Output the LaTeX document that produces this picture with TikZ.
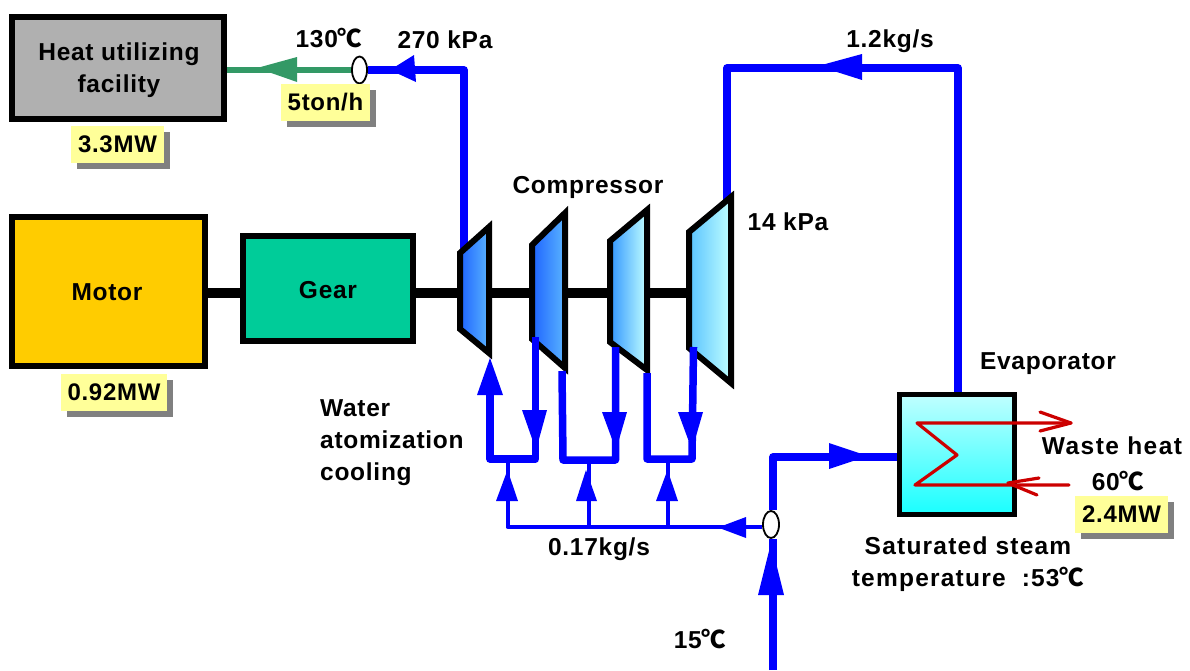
\documentclass[tikz,border=0pt]{standalone}
\usepackage{fontspec}
\usetikzlibrary{shapes.geometric}
\setmainfont[LetterSpace=3]{Liberation Sans}
\newfontfamily\cf{Noto Sans CJK JP}
\newcommand{\degC}{{\cf\bfseries ℃}}
\definecolor{pipeblue}{HTML}{0000FF}
\definecolor{hotred}{HTML}{CC0000}
\definecolor{steamgreen}{HTML}{339966}
\definecolor{noteyellow}{HTML}{FFFF99}
\tikzset{
 lbl/.style={inner sep=0pt,font=\fontsize{24.5}{32}\selectfont\bfseries,align=center},
 wide/.style={inner sep=0pt,font=\fontsize{24.5}{32}\selectfont\bfseries\addfontfeature{LetterSpace=6},align=center},
 wider/.style={inner sep=0pt,font=\fontsize{24.5}{32}\selectfont\bfseries\addfontfeature{LetterSpace=5},align=center},
 machine/.style={draw=black,line width=6pt,inner sep=0pt},
 note/.style={fill=noteyellow,inner sep=0pt,font=\fontsize{24}{28}\selectfont\bfseries,anchor=center},
 pipe/.style={draw=pipeblue,line width=7.5pt,line join=round,line cap=butt},
 thinpipe/.style={draw=pipeblue,line width=4pt,line join=round},
 head/.style={fill=pipeblue,draw=none},
 comp/.style={draw=black,line width=6pt,miter limit=10},
 shaft/.style={draw=black,line width=10pt},
 valve/.style={draw=black,fill=white,line width=1.8pt,shape=ellipse,inner sep=0pt},
 coil/.style={draw=hotred,line width=3.2pt,line join=round,line cap=round},
}
\newcommand{\notebox}[6]{% name, x1, y1, x2, y2, text
 \fill[color=black!50] (#2+6,#3+6) rectangle (#4+6,#5+6);
 \node[note,minimum width=#4pt-#2pt,minimum height=#5pt-#3pt] (#1) at ({(#2+#4)/2},{(#3+#5)/2}) {#6};
}
\begin{document}
\begin{tikzpicture}[x=1pt,y=-1pt]
\useasboundingbox (0,0) rectangle (1190,670);
% machines
\node[machine,fill=black!31,minimum width=212pt,minimum height=102pt] (heat) at (118,68) {};
\node[machine,fill={rgb,255:red,255;green,204;blue,0},minimum width=193pt,minimum height=149pt] (motor) at (108.5,291.5) {};
\node[machine,fill={rgb,255:red,0;green,204;blue,153},minimum width=170pt,minimum height=105pt] (gear) at (328,288.5) {};
\node[lbl] (theat) at (119,70) {Heat utilizing\\facility};
\node[lbl] (tmotor) at (107,292) {Motor};
\node[lbl] (tgear) at (328,290) {Gear};
% compressor geometry
\coordinate (c1a) at (460,253); \coordinate (c1b) at (489,227); \coordinate (c1c) at (489,353); \coordinate (c1d) at (460,329);
\coordinate (c2a) at (532,245); \coordinate (c2b) at (565,213); \coordinate (c2c) at (565,368); \coordinate (c2d) at (532,339);
\coordinate (c3a) at (610,241); \coordinate (c3b) at (647,210); \coordinate (c3c) at (647,370); \coordinate (c3d) at (610,342);
\coordinate (c4a) at (689,232); \coordinate (c4b) at (731,197); \coordinate (c4c) at (731,383); \coordinate (c4d) at (689,348);
\coordinate (s0) at (415,292.5); \coordinate (s00) at (240,292.5); \coordinate (s1) at (460,292.5); \coordinate (s2) at (490,292.5); \coordinate (s3) at (532,292.5); \coordinate (s4) at (565,292.5);
\coordinate (s5) at (610,292.5); \coordinate (s6) at (647,292.5); \coordinate (s7) at (689,292.5);
% shaft
\draw[shaft] (motor.east|-s00) -- (s00);
\draw[shaft] (s0) -- (s1);
\draw[shaft] (s2) -- (s3);
\draw[shaft] (s4) -- (s5);
\draw[shaft] (s6) -- (s7);
% upper pipes
\node[valve,minimum width=15pt,minimum height=27pt] (v1) at (359.5,70) {};
\coordinate (tc) at (464,70);
\coordinate (tb) at (464,250);
\draw[pipe] (tb) -- (tc) -- (v1.east);
\fill[head] (390,70) -- (414,55) -- (416,82) -- cycle;
\draw[draw=steamgreen,line width=5.5pt] (v1.west) -- (heat.east|-v1.west);
\fill[fill=steamgreen] (257,68) -- (297,57) -- (297,82) -- cycle;
\coordinate (rb) at (958,392); \coordinate (rc) at (958,68); \coordinate (lc) at (727,68); \coordinate (lb) at (727,206);
\draw[pipe] (rb) -- (rc) -- (lc) -- (lb);
\fill[head] (818,66) -- (862,54) -- (862,80) -- cycle;
% compressors
\shade[left color={rgb,255:red,30;green,100;blue,255},right color={rgb,255:red,90;green,180;blue,255}] (c1a) -- (c1b) -- (c1c) -- (c1d) -- cycle;
\draw[comp] (c1a) -- (c1b) -- (c1c) -- (c1d) -- cycle;
\shade[left color={rgb,255:red,30;green,100;blue,255},right color={rgb,255:red,90;green,180;blue,255}] (c2a) -- (c2b) -- (c2c) -- (c2d) -- cycle;
\draw[comp] (c2a) -- (c2b) -- (c2c) -- (c2d) -- cycle;
\shade[left color={rgb,255:red,50;green,150;blue,255},right color={rgb,255:red,192;green,255;blue,255}] (c3a) -- (c3b) -- (c3c) -- (c3d) -- cycle;
\draw[comp] (c3a) -- (c3b) -- (c3c) -- (c3d) -- cycle;
\shade[left color={rgb,255:red,90;green,195;blue,255},right color={rgb,255:red,192;green,255;blue,255}] (c4a) -- (c4b) -- (c4c) -- (c4d) -- cycle;
\draw[comp] (c4a) -- (c4b) -- (c4c) -- (c4d) -- cycle;
% spray pipes
\coordinate (g1a) at (490,395); \coordinate (g1b) at (490,459); \coordinate (g1c) at (535.5,459); \coordinate (g1d) at (535.5,337);
\coordinate (g2a) at (562,371); \coordinate (g2b) at (563,460); \coordinate (g2c) at (615.5,460); \coordinate (g2d) at (615.5,347);
\coordinate (g3a) at (647,373); \coordinate (g3b) at (647,459); \coordinate (g3c) at (692,459); \coordinate (g3d) at (693.5,347);
\draw[pipe] (g1a) -- (g1b) -- (g1c) -- (g1d);
\draw[pipe] (g2a) -- (g2b) -- (g2c) -- (g2d);
\draw[pipe] (g3a) -- (g3b) -- (g3c) -- (g3d);
\fill[head] (490,358) -- (503,395) -- (477,395) -- cycle;
\fill[head] (522,410) -- (547,410) -- (536,450) -- cycle;
\fill[head] (602,412) -- (627,412) -- (616,450) -- cycle;
\fill[head] (678,412) -- (703,412) -- (692,450) -- cycle;
% water lines
\node[valve,minimum width=16pt,minimum height=27pt] (v2) at (771,524.5) {};
\coordinate (w1) at (507.5,527); \coordinate (w1t) at (507.5,460);
\coordinate (w2) at (588.5,527); \coordinate (w2t) at (588.5,460);
\coordinate (w3) at (667.5,527); \coordinate (w3t) at (667.5,460);
\draw[thinpipe] (w1t) -- (w1) -- (v2.west|-w1);
\draw[thinpipe] (w2) -- (w2t);
\draw[thinpipe] (w3) -- (w3t);
\fill[head] (507.5,470) -- (518,501) -- (496,501) -- cycle;
\fill[head] (586,470) -- (597,501) -- (576,501) -- cycle;
\fill[head] (667.5,470) -- (678,501) -- (656,501) -- cycle;
\fill[head] (718,527.5) -- (746,517) -- (746,538) -- cycle;
% feed line
\coordinate (fb) at (773,670); \coordinate (ft) at (773,457);
\node[machine,line width=5pt,minimum width=115pt,minimum height=120pt,shade,top color={rgb,255:red,192;green,255;blue,255},bottom color={rgb,255:red,25;green,255;blue,255}] (evap) at (957,454.5) {};
\draw[pipe] (fb) -- (v2.south-|fb);
\draw[pipe] (v2.north-|fb) -- (ft) -- (evap.west|-ft);
\fill[head] (771,543) -- (784,595) -- (758,595) -- cycle;
\fill[head] (868,456) -- (829,443) -- (829,469) -- cycle;
% coil
\coordinate (k1) at (1071,423); \coordinate (k2) at (917,423); \coordinate (k3) at (957,455); \coordinate (k4) at (915,485); \coordinate (k5) at (1069,485);
\draw[coil] (k1) -- (k2) -- (k3) -- (k4) -- (k5);
\draw[coil] (1040,412) -- (k1) -- (1040,431);
\draw[coil] (1039,478) -- (1008,483) -- (1037,495);
% notes
\notebox{n33}{71}{126}{164}{163}{3.3MW}
\notebox{n5t}{281}{84}{370}{121}{5ton/h}
\notebox{n092}{61}{374}{167}{411}{0.92MW}
\notebox{n24}{1075}{496}{1168}{533}{2.4MW}
% labels
\node[lbl] (t130) at (329,38) {130\degC};
\node[lbl] (t270) at (445,40) {270 kPa};
\node[lbl] (t12) at (890,41) {1.2kg/s};
\node[lbl] (tcomp) at (588,187) {Compressor};
\node[lbl] (t14) at (788,222) {14 kPa};
\node[lbl,align=left,anchor=west] (twat) at (320,443) {Water\\atomization\\cooling};
\node[lbl] (t017) at (599,549) {0.17kg/s};
\node[lbl] (tev) at (1048,364) {Evaporator};
\node[wide] (twh) at (1112,446) {Waste heat};
\node[lbl] (t60) at (1118,481) {60\degC};
\node[wider] (tsat) at (968,564) {Saturated steam\\temperature\ \ :53\degC};
\node[lbl] (t15) at (700,639) {15\degC};
\end{tikzpicture}
\end{document}
